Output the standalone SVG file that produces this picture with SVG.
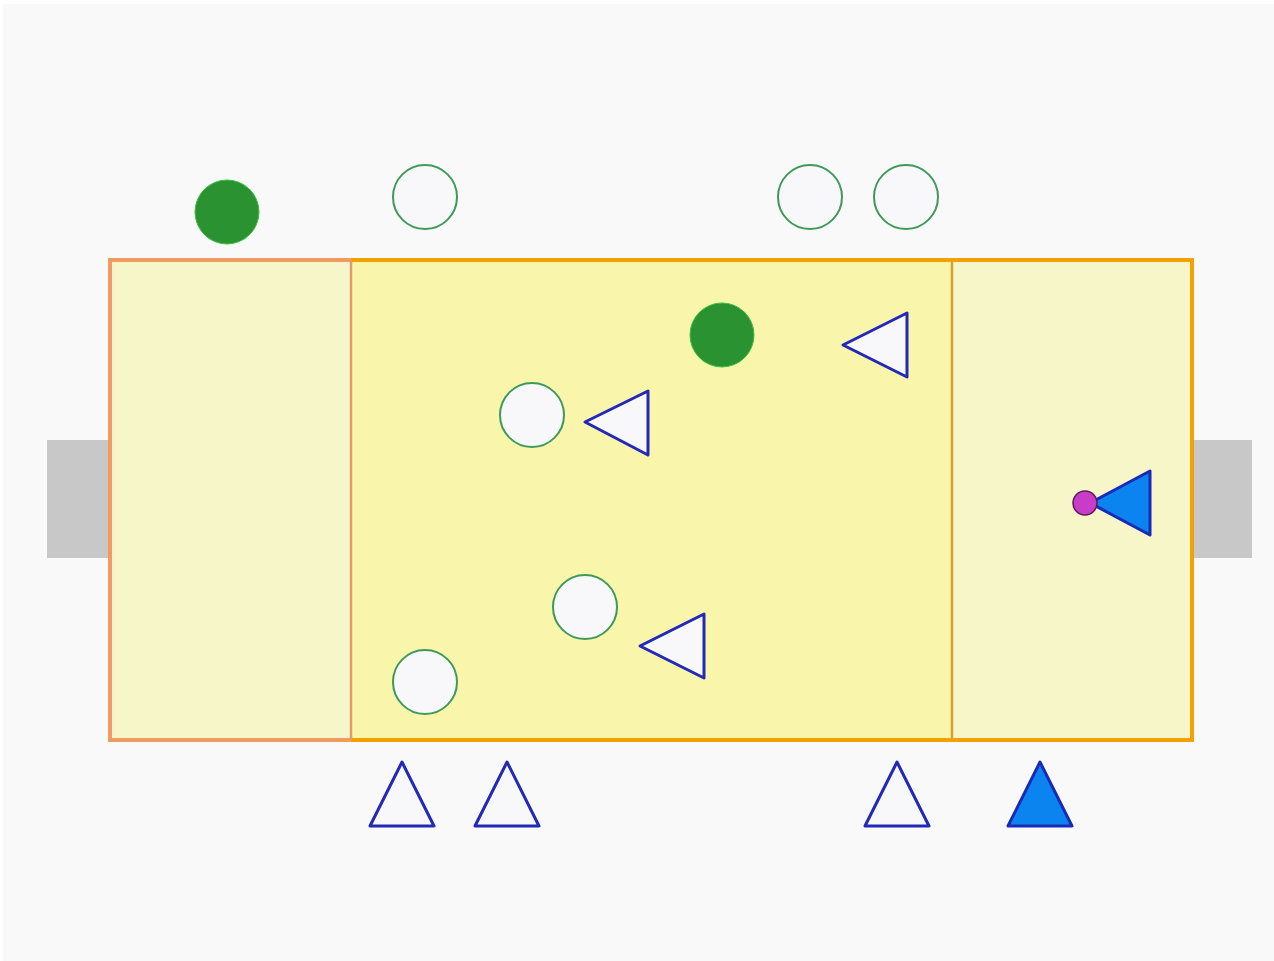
<svg xmlns="http://www.w3.org/2000/svg" width="1274" height="961" viewBox="0 0 1274 961">
<style>
.goal{fill:#c8c8c8}
.side{fill:#f6f6c8}
.mid{fill:#f9f6ab}
.hollow{fill:#f8f8fa;stroke:#3f9a5a;stroke-width:2}
.solid{fill:#2a9230;stroke:#3cc040;stroke-width:1}
.tri{fill:#f8f8fa;stroke:#2228b8;stroke-width:3;stroke-linejoin:round}
.trif{fill:#0b84f0;stroke:#1a2ab8;stroke-width:3;stroke-linejoin:round}
</style>
<rect width="1274" height="961" fill="#ffffff"/>
<rect x="3" y="4" width="1271" height="957" fill="#f9f9f9"/>
<g id="goals">
<rect class="goal" x="47" y="440" width="62" height="118"/>
<rect class="goal" x="1193" y="440" width="59" height="118"/>
</g>
<g id="field">
<rect class="side" x="110" y="260" width="241" height="480"/>
<rect class="mid" x="351" y="260" width="601" height="480"/>
<rect class="side" x="952" y="260" width="240" height="480"/>
<path d="M351 260H1192V740H351" fill="none" stroke="#f2a100" stroke-width="4"/>
<path d="M351 260H110V740H351" fill="none" stroke="#f19a62" stroke-width="4"/>
<line x1="351" y1="260" x2="351" y2="740" stroke="#e39a6e" stroke-width="2.5"/>
<line x1="952" y1="260" x2="952" y2="740" stroke="#d9a02e" stroke-width="2.5"/>
</g>
<g id="players-green">
<circle class="solid" cx="227" cy="212" r="32"/>
<circle class="solid" cx="722" cy="335" r="32"/>
<circle class="hollow" cx="425" cy="197" r="32"/>
<circle class="hollow" cx="810" cy="197" r="32"/>
<circle class="hollow" cx="906" cy="197" r="32"/>
<circle class="hollow" cx="532" cy="415" r="32"/>
<circle class="hollow" cx="585" cy="607" r="32"/>
<circle class="hollow" cx="425" cy="682" r="32"/>
</g>
<g id="players-blue">
<polygon class="tri" points="843,345 907,313 907,377"/>
<polygon class="tri" points="585,422 648,391 648,455"/>
<polygon class="tri" points="640,646 704,614 704,678"/>
<polygon class="trif" points="1090,503 1150,471 1150,535"/>
<polygon class="tri" points="402,762 434,826 370,826"/>
<polygon class="tri" points="507,762 539,826 475,826"/>
<polygon class="tri" points="897,762 929,826 865,826"/>
<polygon class="trif" points="1040,762 1072,826 1008,826"/>
</g>
<g id="ball">
<circle cx="1085" cy="503" r="12" fill="#c83cc8" stroke="#5a1a5a" stroke-width="1.5"/>
</g>
</svg>
